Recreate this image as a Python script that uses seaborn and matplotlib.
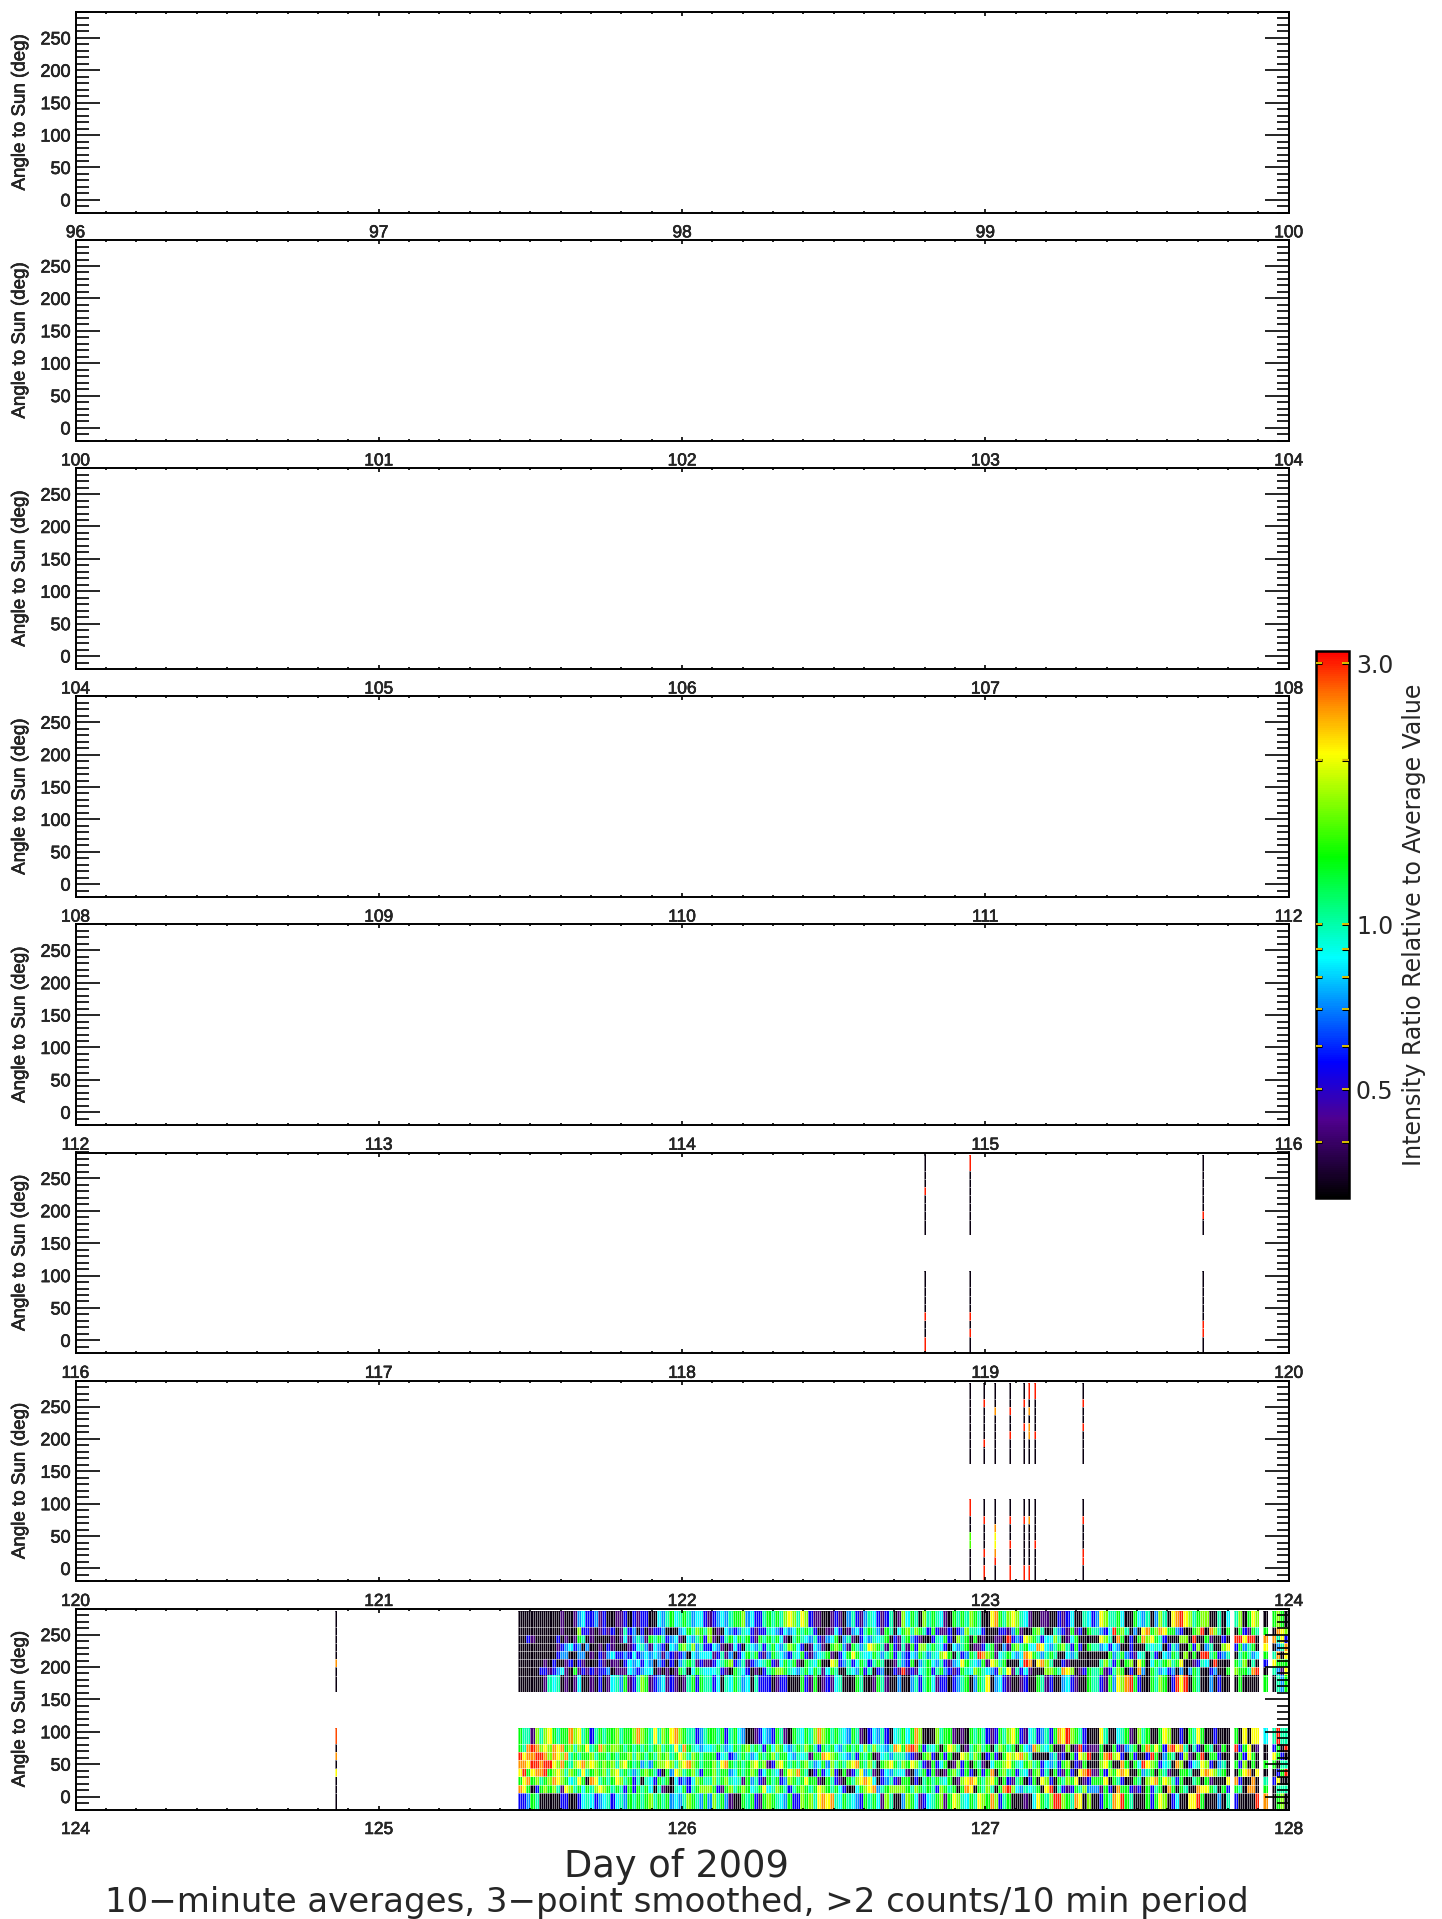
import numpy as np
import pandas as pd
import matplotlib
matplotlib.use("Agg")
import matplotlib.pyplot as plt
import seaborn as sns
from matplotlib.colors import LinearSegmentedColormap, LogNorm
from matplotlib.cm import ScalarMappable
from matplotlib.ticker import FixedLocator, NullFormatter
from matplotlib.transforms import Affine2D
import matplotlib.patheffects as pe

sns.set_style("ticks")
TICK_FONT = ["Liberation Sans", "DejaVu Sans"]
BIG_FONT = ["DejaVu Sans"]
plt.rcParams["font.family"] = TICK_FONT

W, H = 1442, 1919

PANEL_STARTS = [96, 100, 104, 108, 112, 116, 120, 124]
COLS_PER_DAY = 144

# Row edges of the two angular groups (degrees), rows listed top to bottom
UPPER_EDGES = [286.4, 262, 249.6, 237.2, 224.8, 212.4, 200, 186.5, 162]
LOWER_EDGES = [106.5, 81.7, 68.8, 56.1, 43.5, 31, 18.4, 5.6, -20]

# Colour classes (intensity ratio)
LEVELS = dict(k=0.33, p=0.42, b=0.55, a=0.72, c=0.86, t=1.0, g=1.3,
              l=1.65, y=2.05, o=2.5, r=3.0)

# Isolated one-column strips: day, upper rows, lower rows
D = 0.33
R = 3.0
O = 2.5
Y = 2.05
G = 1.5
STRIP_DAYS = [118.804, 118.947, 119.72,
              122.95, 122.999, 123.03, 123.08, 123.13, 123.145, 123.16, 123.325,
              124.86]
STRIP_UPPER = [
    [D, D, D, R, D, D, D, D],
    [R, D, D, D, D, D, D, D],
    [D, D, D, D, D, D, R, D],
    [D, D, D, D, D, D, D, D],
    [D, R, D, D, D, D, R, D],
    [D, D, O, D, D, D, D, D],
    [D, D, R, D, D, R, D, D],
    [D, R, D, D, R, D, D, D],
    [R, D, O, D, O, O, D, D],
    [R, D, D, D, D, R, D, D],
    [D, R, D, D, R, D, D, D],
    [D, D, D, D, D, O, D, D],
]
STRIP_LOWER = [
    [D, D, D, D, R, D, D, R],
    [D, D, D, D, R, D, R, D],
    [D, D, D, D, D, R, R, D],
    [R, D, D, G, G, D, D, D],
    [D, R, D, D, D, R, D, R],
    [D, D, O, Y, Y, O, R, D],
    [D, R, D, D, R, D, D, R],
    [D, R, D, D, D, D, D, R],
    [D, O, D, D, D, D, D, R],
    [D, D, D, D, R, D, D, D],
    [D, R, D, D, D, R, R, D],
    [2.8, D, O, D, Y, D, D, D],
]

# Dense block of the last panel, each letter spans two columns.
BLOCK_FIRST_COL = 210
CHUNK_LEN = [46, 46, 46, 42]

UPPER_ROWS = [
 ["kkkkkkkkkkpkkpacbbapbkkppbkbpbbkkcatgctgtaccbp", "bacatgglacbbtgtgtlyltylbppkkpbpkatbpatcbpbtkplg",
  "cgtkltgtcpkgtgtlgtkkyogtlyltcpkkppkkbpbckktcbat", "ylttgckkgcatkaltkyoryltgllkktkctlkgylk.glgk.o.tbrg"],
 ["kkkkkkkkkkpkkklbbpkpbpbkptbakbkpbbakkkacgtlgtlg", "kpkcabatcbpbbtcabcacgtgtbkkppcbkpacbtgtapgtkcgt",
  "ltlgtbgbppbkbalttcbkkkbbpagpkkgltkktabpgpbkgt", "abcrgltkakyogloyggabkkglrkoltkgk.gbpgtgk.oylabrg"],
 ["kkbpkkkkkbkpkpgtkpkkkkpkpcpatapgtgtbacpkcatgbl", "pkbtgcgtgbpgtgtgcpktgtcatbpacgkatpkbcatctgkbpt",
  "gabpkkbtcgbkltgkgkpkkppkrbabylgtbccltkpcgk", "yltkogkbkgolygtbkkkllkrkkgpkkbk.rryrrk.ooty.bgyg"],
 ["kkkkkkkkkpbacbakakkpkbpkkkpbctapcabkcagltlatb", "capkpcbktcatbtgcatlgcbkpcapkglgapgtatylgtpgbpt",
  "pgblltgtcbkcatgkppbtgpkapgltgccoycatgltbgbkgt", "acbcakkbkkktctckbtakkgblkatkkly.bgatgk.yk.atoga"],
 ["kkkkkkkkkbaakkaakpkbpacbbabcbacacapabpbakcacc", "pbtpakbcgtgbpagtcabtcgbpactgpkbcgygtccgtatgbta",
  "bcagtatclygktbagtrolgpctgcacoygtatgtkkcatk", "kkgatgabpctktbkcagtklkgkrrtgbatktgt.acgtok.yg.apyg"],
 ["kkkkkkpkbkkpbkbpkkkbpkppkbcacbcakabkbkatgtpbp", "bctglbatpbactgbpcgtgpkgtcgkkylbatbcgtbtgtkkpta",
  "bgkatgcatbpacygtcagpyltgkkkcrokyoltkkbpkk", "tltbgkglkygkcgtgltgykkpbtckrkk.kgtlk.t.kbyg"],
 ["kkkkkbbpbacpkgpbpbpbbakpppcabacckpkpkpgtkcgtc", "ctbpkgtcbkpkbtgllgtcatgcgtpcgtkktcagbtkbakkbpro",
  "pbpctgbtgabpbgtclgtcabltyptbcpkkkllgtoylkpbgt", "gpbtlgkbkoakgtacbakakagtkkbakkglg.gtork.t.apybg"],
 ["kkkkkkptctkpkpckkpkbkpctagpbtlgpbacpbpkptgbgt", "bcktcgtacktbbbkpbbkkkgbpgkpbpctkkkgtkkpgtpkkakk",
  "katbtgcpbbkbatgkagtykacbpkkpbkkgtpbkkacbpkkgt", "bpgaylorgbkkgtlgkbryrkgtkkakbkkk.gkkkk.gk.t.agtbr"],
]
LOWER_ROWS = [
 ["gttpltlygtggolytgbtgtggltgglolgtytlgyolgttbatg", "gtgbtgcakkpbcabgtpkgtcgtlolgtgtcagtpkbcatbkctgg",
  "cgolkkkltggpkpkgtgtbpbgtlygbpctbatbgoyrlgtbk", "ytkkctgpkltgkkgylkkbkgtygkk.bkkk.gk.yk.yyctrt"],
 ["gtorolyloyogltlgytgolgllgtgtgtgtgltgtytogtcac", "tgtacgtgltgtbgclgcatgtlgtbgtgcatgtgcltltcatoyg",
  "orogbtcgkgyltkptgltgktlgtgkgcaoltcgkkplkprbp", "gkkgbpatgkgogygboryotktbkgtkpgk.rbgyk.pk.bgkrk"],
 ["ryoorroloylotgtggltggtgtggltlgtgtlgltgyltlgtg", "gbctbatgtacgtgltggcatctpggoylgtcatbgtgkpctatt",
  "abpkglbkgbgkkyltlgkbgbkgylyoltkkkkatpbkgbylrk", "gorlybkgbkkbrgkagtkblpkgrkggbkkk.gbyg.kk.ygbk"],
 ["ooyrrorrylogtlyolylglgltlygtgatagllyltlyolgtg", "ltyogtgtglyglpblygtgtgltacgaltgtlyogtltkglygtl",
  "gyltbpgbcgkplbgkgtpkcgglygtcgltgbcatbglkbpgk", "lygkkogkgcrylgbctkolkbctylbkatk.gblk.gk.ggkt"],
 ["yrgyoorglyltlgtytglgltlytgtatglgtbkgayltgltbg", "ltggacgtglgbcgtcpgylogtkbgbclbkgpbtyatpkbcatc",
  "pkatgbgpkpgltbgbkgbgokgltgbtcpglbtkgbpgbkyorp", "gblgyoykkgatgkgtpkkggtkkyoyltgkk.gyok.yk.kbgrk"],
 ["gyogltgloylgctygkoytgtgyltgbtktcbgtgkcbabclgt", "ltgltctpgatbpgtgbalgtgyggpkgtbpkgtlyoyckbatbpgl",
  "gkbktgtgtcgkplyoygtlygkgbptgkbgkylbkgtlgykpbg", "gykgtbkkgtklyogyltbgkktgkgpkkk.yobkk.ok.tbyk"],
 ["oygkbglgltpyltgcgtlylgtgtbgbgtgcktpkktcgbtgl", "gbpgltglgctgyctlgtbtglgtgylgtgcbkkcglyoatgl",
  "gtlgtgtblgtgkgoykgtltkgorlcatctgkyrktbpbgtla", "pgbkoggbpbkgbtgkogkgtkkoyygtk.gbgtk.oo.kgkt"],
 ["bbagtkkkkkbbkkbctcbactbctagtgtgltgtgacatlgtaga", "ltgapkkgtgbpglgtcagbblgltyoyotcgtcabgtgcpltkkab",
  "lgcpbctglpgyltcgtylgolbtgkkkpkcygtlrrlgtoyklkkk", "bgtoyrgtkkkgbgylkbckkyyrgkkkaktbkkk.krok.glk.grk"],
]

# Angle axis ticks and labels
Y_MAJOR = [0, 50, 100, 150, 200, 250]
Y_MINOR = list(range(-20, 300, 10))
CB_TICKS = [0.4, 0.5, 0.6, 0.7, 0.8, 0.9, 1.0, 2.0, 3.0]
CB_LABELS = ["", "0.5", "", "", "", "", "1.0", "", "3.0"]
CB_MIN, CB_MAX = 10 ** -0.5, 10 ** 0.5

YLABEL = "Angle to Sun (deg)"
XLABEL = "Day of 2009"
SUBTITLE = "10\u2212minute averages, 3\u2212point smoothed, >2 counts/10 min period"
CBLABEL = "Intensity Ratio Relative to Average Value"

cmap = LinearSegmentedColormap.from_list(
    "idl_rainbow",
    [(0.0, "#000000"), (0.143, "#500090"), (0.247, "#0000ff"), (0.345, "#0080ff"),
     (0.439, "#00ffff"), (0.623, "#00ff00"), (0.813, "#ffff00"), (0.90, "#ff9000"),
     (1.0, "#ff0000")], N=256)
norm = LogNorm(vmin=CB_MIN, vmax=CB_MAX)
HEAVY = [pe.withStroke(linewidth=0.4, foreground="black")]


def fit(chunk, n):
    return chunk[:n].ljust(n, chunk[-1])


def block_row(chunks):
    head = "".join(fit(c, n) for c, n in zip(chunks[:3], CHUNK_LEN[:3]))
    tail = fit(chunks[3].replace(".", ""), CHUNK_LEN[3])
    tail = tail[:31] + "." + tail[31:37] + "." + tail[37:38] + "." + tail[38:]
    return head + tail


def build_grid(start, rows, strips):
    n = 4 * COLS_PER_DAY
    grid = np.full((8, n), np.nan)
    for day, vals in zip(STRIP_DAYS, strips):
        if start <= day < start + 4:
            grid[:, int((day - start) * COLS_PER_DAY)] = vals
    if start == PANEL_STARTS[-1]:
        for i, chunks in enumerate(rows):
            for j, ch in enumerate(block_row(chunks)):
                if ch != ".":
                    c = BLOCK_FIRST_COL + 2 * j
                    grid[i, c:c + 2] = LEVELS[ch]
    return grid


def draw_group(ax, start, grid, edges):
    if np.all(np.isnan(grid)):
        return
    top, bottom = edges[0], edges[-1]
    repeats = [2, 1, 1, 1, 1, 1, 1, 2]
    fine = np.repeat(grid, repeats, axis=0)[::-1]
    frame = pd.DataFrame(fine)
    sns.heatmap(frame, ax=ax, cmap=cmap, norm=norm, cbar=False,
                xticklabels=False, yticklabels=False)
    mesh = ax.collections[-1]
    dy = (top - bottom) / fine.shape[0]
    mesh.set_transform(Affine2D().scale(1 / COLS_PER_DAY, dy).translate(start, bottom)
                       + ax.transData)
    # thin light separators between cells, as the resampled image shows them
    cols = np.where(~np.isnan(grid).all(axis=0))[0]
    xs = start + np.union1d(cols, cols + 1) / COLS_PER_DAY
    ax.vlines(xs, bottom, top, color="white", lw=0.5, alpha=0.7, zorder=2)
    spans = np.split(cols, np.where(np.diff(cols) > 1)[0] + 1)
    for sp in spans:
        x0 = start + sp[0] / COLS_PER_DAY
        x1 = start + (sp[-1] + 1) / COLS_PER_DAY
        ax.hlines(edges[1:-1], x0, x1, color="white", lw=0.6, alpha=0.6, zorder=2)


fig = plt.figure(figsize=(W / 100, H / 100), dpi=100, facecolor="white")

LEFT, RIGHT = 75.5, 1288.7
TOP0, PITCH, HEIGHT = 12.0, 228.1, 200.8

for i, start in enumerate(PANEL_STARTS):
    top = TOP0 + i * PITCH
    ax = fig.add_axes([LEFT / W, 1 - (top + HEIGHT) / H, (RIGHT - LEFT) / W, HEIGHT / H])
    draw_group(ax, start, build_grid(start, UPPER_ROWS, STRIP_UPPER), UPPER_EDGES)
    draw_group(ax, start, build_grid(start, LOWER_ROWS, STRIP_LOWER), LOWER_EDGES)
    ax.set_xlim(start, start + 4)
    ax.set_ylim(-20, 290)
    ax.set_axisbelow(False)
    for s in ax.spines.values():
        s.set_visible(True)
        s.set_linewidth(1.4)
        s.set_color("black")
        s.set_zorder(6)
    ax.xaxis.set_major_locator(FixedLocator(range(start, start + 5)))
    ax.xaxis.set_minor_locator(FixedLocator(np.arange(start, start + 4.01, 0.1)))
    ax.yaxis.set_major_locator(FixedLocator(Y_MAJOR))
    ax.yaxis.set_minor_locator(FixedLocator(Y_MINOR))
    ax.xaxis.set_major_formatter(plt.FuncFormatter(lambda v, p: f"{int(v)}"))
    ax.yaxis.set_major_formatter(plt.FuncFormatter(lambda v, p: f"{int(v)}"))
    ax.yaxis.set_minor_formatter(NullFormatter())
    ax.tick_params(axis="x", which="major", direction="in", top=True, bottom=True,
                   length=3.2, width=1.2, labelsize=12.5, pad=9, color="black")
    ax.tick_params(axis="x", which="minor", direction="in", top=True, bottom=True,
                   length=1.2, width=1.2, color="black")
    ax.tick_params(axis="y", which="major", direction="in", left=True, right=True,
                   length=17.5, width=1.2, labelsize=13, pad=3.5, color="black")
    ax.tick_params(axis="y", which="minor", direction="in", left=True, right=True,
                   length=9, width=1.2, color="black")
    ax.patch.set_facecolor("white")
    for lab in ax.get_xticklabels() + ax.get_yticklabels():
        lab.set_path_effects(HEAVY)
    ax.set_xlabel("")
    ax.set_ylabel(YLABEL, fontsize=13.5, labelpad=0, path_effects=HEAVY)
    ax.yaxis.set_label_coords((28.5 - LEFT) / (RIGHT - LEFT), 0.5)

# Colour bar
cax = fig.add_axes([1315.5 / W, 1 - 1198 / H, 33.5 / W, 547.3 / H])
cb = fig.colorbar(ScalarMappable(norm=norm, cmap=cmap), cax=cax)
cb.set_ticks(CB_TICKS, labels=CB_LABELS)
cb.minorticks_off()
cb.outline.set_linewidth(1.8)
cb.outline.set_edgecolor("black")
cax.set_axisbelow(False)
cax.tick_params(axis="y", which="major", direction="in", left=True, right=True,
                length=5, width=1.2, color="#ffe000", labelsize=17, pad=5)
for t in cax.yaxis.get_major_ticks():
    t.tick1line.set_path_effects([pe.withStroke(linewidth=2.2, foreground="black")])
    t.tick2line.set_path_effects([pe.withStroke(linewidth=2.2, foreground="black")])
for lab in cax.get_yticklabels():
    lab.set_family(BIG_FONT)

fig.text(1414 / W, 1 - 925 / H, CBLABEL, rotation=90, ha="center", va="center",
         fontsize=17, family=BIG_FONT)
fig.text(677 / W, 1 - 1866 / H, XLABEL, ha="center", va="center",
         fontsize=26.5, family=BIG_FONT)
fig.text(677 / W, 1 - 1902 / H, SUBTITLE, ha="center", va="center",
         fontsize=24.5, family=BIG_FONT)

fig.savefig("out.png", dpi=100, facecolor="white")
